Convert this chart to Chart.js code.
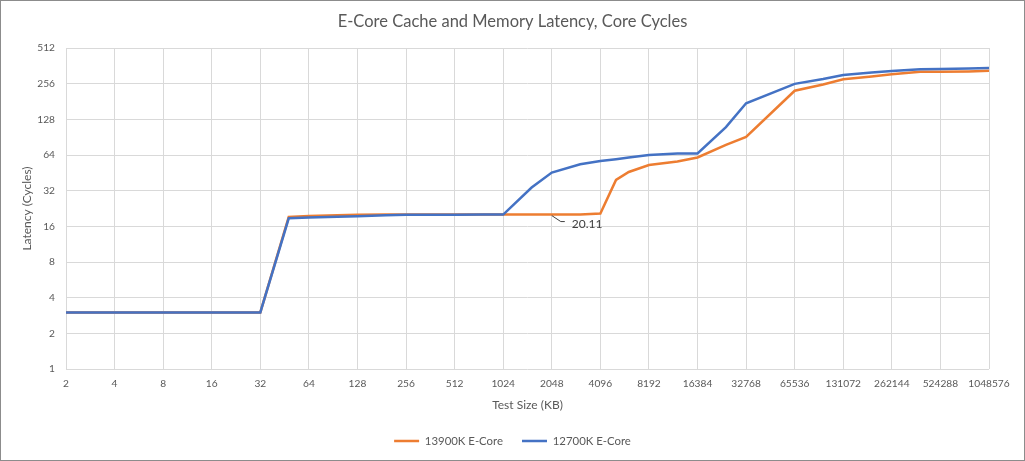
<!DOCTYPE html>
<html>
<head>
<meta charset="utf-8">
<script src="https://cdn.jsdelivr.net/npm/chart.js@4.4.1/dist/chart.umd.min.js"></script>
<style>
html,body{margin:0;padding:0;background:#fff;}
#wrap{width:1025px;height:461px;position:relative;}
</style>
</head>
<body>
<div id="wrap"><canvas id="c" width="1025" height="461"></canvas></div>
<script>
// ---- data ----
const testSizesKB = [2,4,8,12,16,24,32,48,64,96,128,192,256,384,512,768,1024,1536,2048,3072,4096,5120,6144,8192,12288,16384,24576,32768,65536,98304,131072,196608,262144,393216,524288,786432,1048576];
const latency13900K = [3,3,3,3,3,3,3,19.2,19.6,19.8,20.0,20.1,20.11,20.11,20.11,20.11,20.11,20.11,20.11,20.11,20.5,39.4,46,52.7,56.5,61,78,91,223,252,279,294,307,322,323,325,329];
const latency12700K = [3,3,3,3,3,3,3,18.7,19.0,19.3,19.5,19.8,20.0,20.0,20.0,20.1,20.1,34,45.5,53.5,57,59,61,64,66,66,110,175,255,280,303,318,327,338,340,343,347];
const seriesNames = ['13900K E-Core','12700K E-Core'];
const seriesColors = ['#ED7D31','#4472C4'];
const xTickValues = [2,4,8,16,32,64,128,256,512,1024,2048,4096,8192,16384,32768,65536,131072,262144,524288,1048576];
const yTickValues = [1,2,4,8,16,32,64,128,256,512];
const chartTitle = 'E-Core Cache and Memory Latency, Core Cycles';
const xTitle = 'Test Size (KB)';
const yTitle = 'Latency (Cycles)';
const dataLabel = {series:0, x:2048, y:20.11, text:'20.11'};

const FONT = 'Lato';
const TXT = '#595959';
const GRID = '#d9d9d9';

const labelPlugin = {
  id: 'pointLabel',
  afterDatasetsDraw(chart) {
    const {ctx, scales} = chart;
    const px = scales.x.getPixelForValue(dataLabel.x);
    const py = scales.y.getPixelForValue(dataLabel.y);
    ctx.save();
    ctx.strokeStyle = '#404040';
    ctx.lineWidth = 1;
    ctx.beginPath();
    ctx.moveTo(px, py + 1);
    ctx.lineTo(px + 9, py + 7);
    ctx.lineTo(px + 13, py + 7);
    ctx.stroke();
    ctx.fillStyle = '#404040';
    ctx.font = '12px ' + FONT;
    ctx.textBaseline = 'middle';
    ctx.textAlign = 'left';
    ctx.fillText(dataLabel.text, px + 20, py + 9.5);
    ctx.restore();
  }
};

const borderPlugin = {
  id: 'outerBorder',
  afterDraw(chart) {
    const {ctx, width, height} = chart;
    ctx.save();
    ctx.strokeStyle = '#8c8c8c';
    ctx.lineWidth = 1;
    ctx.strokeRect(0.5, 0.5, width - 1, height - 1);
    ctx.restore();
  }
};

const datasets = [latency13900K, latency12700K].map((vals, i) => ({
  label: seriesNames[i],
  data: testSizesKB.map((s, j) => ({x: s, y: vals[j]})),
  borderColor: seriesColors[i],
  backgroundColor: seriesColors[i],
  borderWidth: 2.5,
  pointRadius: 0,
  pointHoverRadius: 0,
  tension: 0,
  order: i === 0 ? 1 : 0
}));

new Chart(document.getElementById('c'), {
  type: 'line',
  data: {datasets},
  options: {
    responsive: false,
    animation: false,
    events: [],
    layout: {padding: {left: 0, right: 0, top: 0, bottom: 4.3}},
    plugins: {
      tooltip: {enabled: false},
      title: {
        display: true,
        text: chartTitle,
        color: TXT,
        font: {family: FONT, size: 16.5, weight: 'normal'},
        padding: {top: 12.1, bottom: 16.1}
      },
      legend: {
        position: 'bottom',
        labels: {
          usePointStyle: true,
          pointStyle: 'line',
          pointStyleWidth: 25,
          padding: 19,
          color: TXT,
          font: {family: FONT, size: 11.4},
          sort: (a, b) => a.datasetIndex - b.datasetIndex
        }
      }
    },
    scales: {
      x: {
        type: 'logarithmic',
        position: 'bottom',
        min: 2,
        max: 1048576,
        afterBuildTicks: s => { s.ticks = xTickValues.map(v => ({value: v})); },
        afterFit: s => { s.height = 47.3; },
        ticks: {
          autoSkip: false, maxRotation: 0, minRotation: 0, padding: 9,
          color: TXT, font: {family: FONT, size: 10.2},
          callback: v => String(v)
        },
        grid: {color: GRID, lineWidth: 1, drawTicks: false},
        border: {display: false},
        title: {
          display: true, text: xTitle, color: TXT,
          font: {family: FONT, size: 12},
          padding: {top: 0, bottom: 4.1}
        }
      },
      y: {
        type: 'logarithmic',
        position: 'left',
        min: 1,
        max: 512,
        afterBuildTicks: s => { s.ticks = yTickValues.map(v => ({value: v})); },
        afterFit: s => { s.width = 66; },
        ticks: {
          padding: 11, color: TXT, font: {family: FONT, size: 10.2},
          callback: v => String(v)
        },
        grid: {color: GRID, lineWidth: 1, drawTicks: false},
        border: {display: false},
        title: {
          display: true, text: yTitle, color: TXT,
          font: {family: FONT, size: 12},
          padding: {top: 20.4, bottom: 0}
        }
      },
      yRight: {
        type: 'linear',
        position: 'right',
        display: true,
        afterFit: s => { s.width = 36; },
        ticks: {display: false},
        grid: {display: false},
        border: {display: false}
      }
    }
  },
  plugins: [labelPlugin, borderPlugin]
});
</script>
</body>
</html>
